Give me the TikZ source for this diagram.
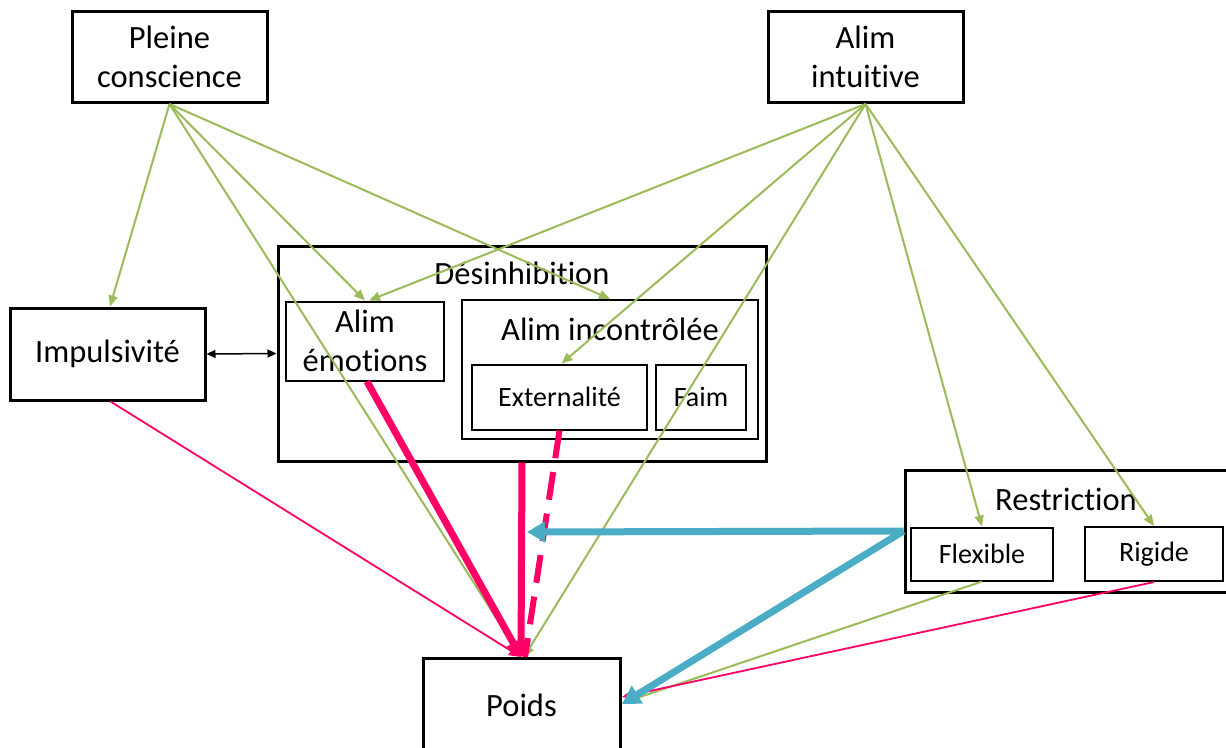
\documentclass[tikz,border=0pt]{standalone}
\usepackage{fontspec}
\setmainfont{Carlito}[Ligatures={NoCommon,NoContextual}]
\usetikzlibrary{arrows.meta}
\definecolor{grn}{RGB}{155,187,89}
\definecolor{mag}{RGB}{255,0,102}
\definecolor{blu}{RGB}{75,172,198}
\begin{document}
\begin{tikzpicture}[x=1pt,y=-1pt,
  bigbox/.style={draw,line width=3pt,inner sep=0pt,align=center,font=\fontsize{32.5}{39}\selectfont},
  inbox/.style={draw,line width=2pt,inner sep=0pt,align=center,font=\fontsize{32.5}{39}\selectfont},
  smallbox/.style={draw,line width=2pt,inner sep=0pt,align=center,font=\fontsize{28}{32}\selectfont},
  lbl/.style={inner sep=0pt,font=\fontsize{32.5}{39}\selectfont},
  garr/.style={grn,line width=2pt,-{Triangle[length=11pt,width=9pt]}},
  rthin/.style={mag,line width=1.8pt,-{Triangle[length=12pt,width=10pt]}},
  rthick/.style={mag,line width=7pt,-{Triangle[length=16pt,width=18pt]}},
  barr/.style={blu,line width=7pt,-{Triangle[length=18pt,width=20pt]}}]
\useasboundingbox (0,0) rectangle (1226,747);
% boxes
\node[bigbox,minimum width=195,minimum height=91] (pc) at (169.5,57) {Pleine\\conscience};
\node[bigbox,minimum width=195,minimum height=91] (ai) at (865.5,57) {Alim\\intuitive};
\node[bigbox,minimum width=195,minimum height=92] (imp) at (107.5,354) {Impulsivité};
\node[bigbox,minimum width=488,minimum height=215] (des) at (522,353.5) {};
\node[lbl] (deslbl) at (522,273) {Désinhibition};
\node[inbox,minimum width=158,minimum height=79] (emo) at (365,341) {Alim\\émotions};
\node[inbox,minimum width=296,minimum height=139] (inc) at (610,369.5) {};
\node[lbl] (inclbl) at (610,329) {Alim incontrôlée};
\node[smallbox,minimum width=175,minimum height=65] (ext) at (559.5,397) {Externalité};
\node[smallbox,minimum width=90,minimum height=65] (faim) at (701,397) {Faim};
\node[bigbox,minimum width=330,minimum height=122] (res) at (1070,531) {};
\node[lbl] (reslbl) at (1066,499) {Restriction};
\node[smallbox,minimum width=142,minimum height=53] (flex) at (982,554) {Flexible};
\node[smallbox,minimum width=138,minimum height=54] (rig) at (1154,554) {Rigide};
\node[bigbox,minimum width=197,minimum height=94] (poids) at (521.5,705) {Poids};
\coordinate (pTop) at (521,657);
\coordinate (pR) at (622,700);
\coordinate (hit) at (527,532);
% green from Pleine conscience
\draw[garr] (pc.south) -- (imp.north -| 110,0);
\draw[garr] (pc.south) -- (emo.north);
\draw[garr] (pc.south) -- (inc.north);
\draw[garr] (pc.south) -- (pTop);
% green from Alim intuitive
\draw[garr] (ai.south) -- ([xshift=4pt]emo.north);
\draw[garr] (ai.south) -- ([xshift=2pt]ext.north);
\draw[garr] (ai.south) -- ([xshift=3pt]pTop);
\draw[garr] (ai.south) -- (flex.north);
\draw[garr] (ai.south) -- (rig.north);
% red
\draw[rthin] ([xshift=3pt]imp.south) -- (pTop);
\draw[rthick] ([xshift=2pt]emo.south) -- (pTop);
\draw[rthick] ([xshift=0pt]des.south) -- (pTop);
\draw[mag,line width=6pt,dash pattern=on 28pt off 14pt] (ext.south) -- ([xshift=4pt]pTop);
% from restriction
\draw[grn,line width=2pt,-{Triangle[length=11pt,width=9pt]}] (flex.south) -- ([yshift=-3pt]pR);
\draw[rthin] (rig.south) -- ([yshift=3pt]pR);
\draw[barr] (res.west) -- (hit);
\draw[barr] (res.west) -- ([yshift=-4pt]pR);
% black double arrow
\draw[line width=1.5pt,{Triangle[length=9pt,width=8pt]}-{Triangle[length=9pt,width=8pt]}] (imp.east) -- (des.west);
\end{tikzpicture}
\end{document}
